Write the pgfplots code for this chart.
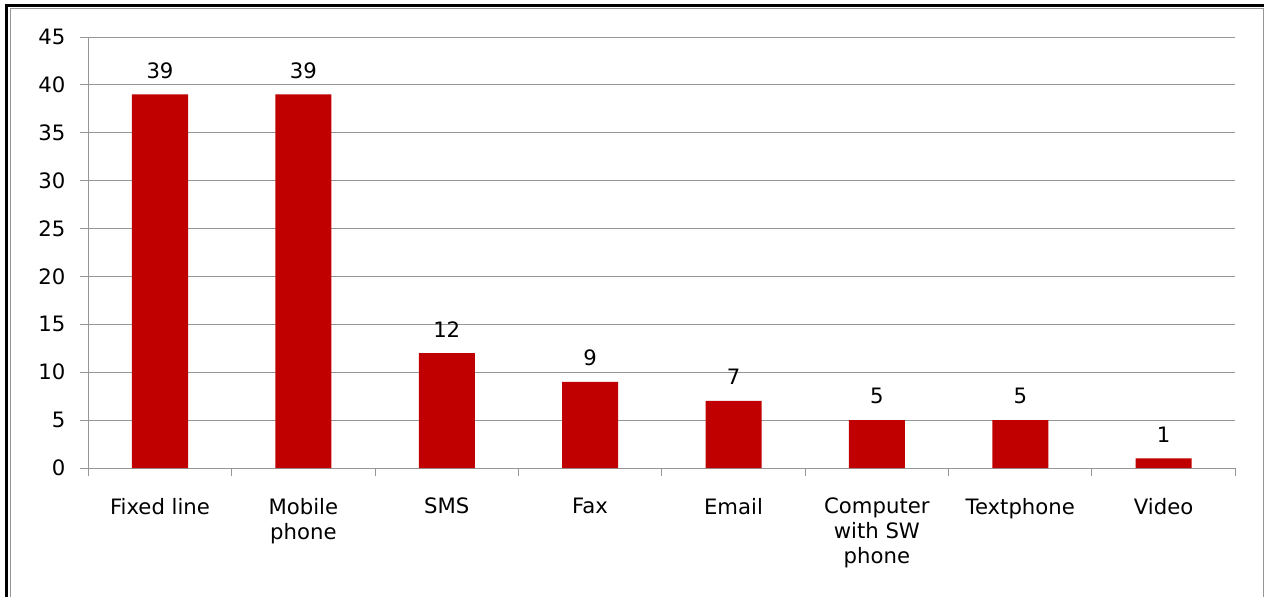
\documentclass[border=0pt]{standalone}
\usepackage{pgfplots}
\pgfplotsset{compat=1.18}
\usepackage{fontspec}
\setmainfont{DejaVu Sans}
\definecolor{barred}{RGB}{192,0,0}
\definecolor{gridgray}{RGB}{150,150,150}
\begin{document}
\begin{tikzpicture}[x=1pt,y=1pt]
\path[use as bounding box] (0,0) rectangle (632,298);
\draw[black,line width=1.5pt] (3.25,-5) -- (3.25,295.25) -- (640,295.25);
\draw[gridgray,line width=0.5pt] (5,-5) -- (5,293.6) -- (631.6,293.6) -- (631.6,-5);
\begin{axis}[
  at={(80pt,64pt)}, anchor=origin,
  scale only axis, width=573.5pt, height=215.5pt,
  xmin=-0.5, xmax=7.5, ymin=0, ymax=45,
  axis x line=bottom, axis y line=left,
  axis line style={gridgray,-},
  ytick={0,5,...,45},
  ymajorgrids, grid style={gridgray,line width=0.5pt},
  tick align=outside, major tick length=4pt,
  tick style={gridgray,line width=0.5pt},
  xtick={-0.5,0.5,...,7.5},
  xticklabels={Fixed line,Mobile\\phone,SMS,Fax,Email,Computer\\with SW\\phone,Textphone,Video,{}},
  xticklabel style={xshift=35.84pt,yshift=-7.5pt,align=center,font=\fontsize{10.6}{12.5}\selectfont,text=black},
  yticklabel style={xshift=-4pt,font=\fontsize{10.6}{12}\selectfont,text=black},
  /pgf/number format/assume math mode=true,
  ybar, bar width=28pt,
  nodes near coords,
  nodes near coords style={font=\fontsize{10.6}{12}\selectfont,text=black,yshift=4.5pt},
  clip=false,
]
\addplot[fill=barred,draw=none] coordinates {(0,39) (1,39) (2,12) (3,9) (4,7) (5,5) (6,5) (7,1)};
\end{axis}
\end{tikzpicture}
\end{document}
